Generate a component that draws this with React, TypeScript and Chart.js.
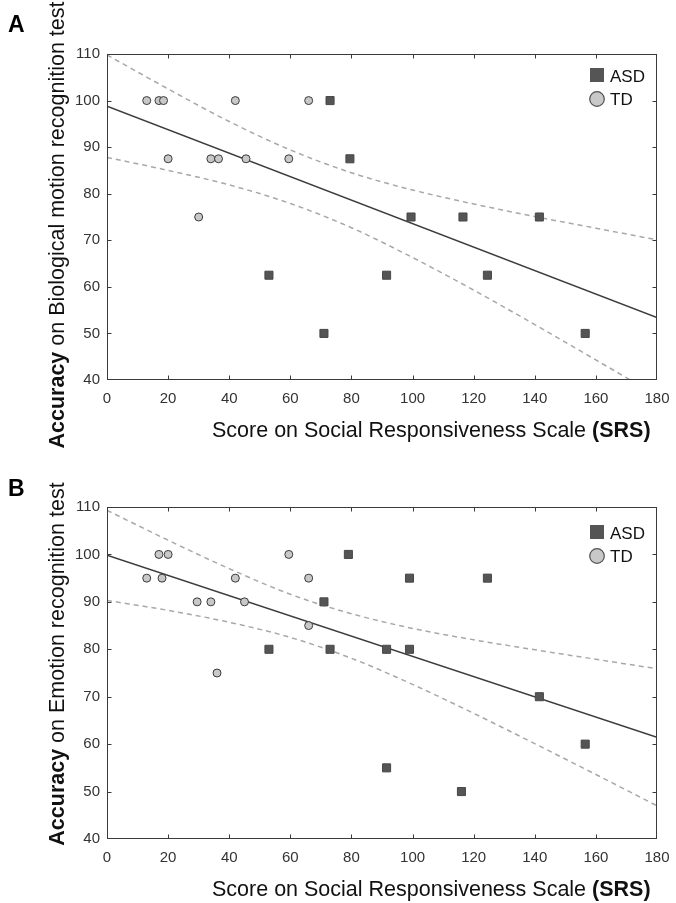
import React, { useEffect, useRef } from 'react';
import { Chart, registerables } from 'chart.js';

Chart.register(...registerables);

const FONT = "Arial, 'Liberation Sans', Helvetica, sans-serif";

// ---- axis ticks ----
const xTickStep = 20;
const xMin = 0;
const xMax = 180;
const yTickStep = 10;
const yMin = 40;
const yMax = 110;

// ---- Panel A: Biological motion recognition ----
const asdA_x = [73, 79.5, 53, 91.5, 71, 99.5, 116.5, 141.5, 124.5, 156.5];
const asdA_y = [100, 87.5, 62.5, 62.5, 50, 75, 75, 75, 62.5, 50];
const tdA_x = [13, 17, 18.5, 42, 66, 20, 34, 36.5, 45.5, 59.5, 30];
const tdA_y = [100, 100, 100, 100, 100, 87.5, 87.5, 87.5, 87.5, 87.5, 75];
const fitA_x = [0, 180];
const fitA_y = [98.8, 53.4];
const bandX = [0, 20, 40, 60, 80, 100, 120, 140, 160, 180];
const upperA = [109.8, 102.5, 95.5, 89.4, 84.5, 80.8, 77.8, 75.1, 72.6, 70.1];
const lowerA = [87.8, 85.0, 81.9, 77.9, 72.7, 66.3, 59.3, 51.9, 44.3, 36.7];

// ---- Panel B: Emotion recognition ----
const asdB_x = [79, 71, 53, 73, 91.5, 91.5, 99, 124.5, 99, 141.5, 156.5, 116];
const asdB_y = [100, 90, 80, 80, 80, 55, 95, 95, 80, 70, 60, 50];
const tdB_x = [13, 17, 20, 18, 29.5, 34, 45, 42, 36, 59.5, 66, 66];
const tdB_y = [95, 100, 100, 95, 90, 90, 90, 95, 75, 100, 95, 85];
const fitB_x = [0, 180];
const fitB_y = [99.85, 61.45];
const upperB = [109.3, 103.0, 97.0, 91.6, 87.5, 84.4, 82.0, 79.9, 77.9, 75.9];
const lowerB = [90.3, 88.2, 85.7, 82.5, 78.1, 72.6, 66.5, 60.1, 53.6, 47.0];

const groupLabels = ['ASD', 'TD'];
const xTitleNormal = 'Score on Social Responsiveness Scale ';
const xTitleBold = '(SRS)';
const yTitleBold = 'Accuracy';
const yTitleA = ' on Biological motion recognition test';
const yTitleB = ' on Emotion recognition test';

const ASD_FILL = '#555555';
const ASD_BORDER = '#484848';
const TD_FILL = '#c8c8c8';
const TD_BORDER = '#3a3a3a';

const zip = (xs: number[], ys: number[]) => xs.map((x, i) => ({ x, y: ys[i] }));

type PanelCfg = {
  letter: string;
  height: number;
  padTop: number;
  xAxisHeight: number;
  letterBaseline: number;
  legendTop: number;
  yTitleShift: number;
  yRest: string;
  asdX: number[]; asdY: number[];
  tdX: number[]; tdY: number[];
  fitX: number[]; fitY: number[];
  upper: number[]; lower: number[];
};

const TITLE_PX = 21.5;

function makePlugin(p: PanelCfg) {
  return {
    id: 'decor' + p.letter,
    afterDraw(chart: any) {
      const { ctx, chartArea: a, scales } = chart;
      const xs = scales.x;
      const ys = scales.y;
      ctx.save();
      // frame
      ctx.strokeStyle = '#3a3a3a';
      ctx.lineWidth = 1;
      const L = Math.round(a.left) + 0.5;
      const R = Math.round(a.right) - 0.5;
      const T = Math.round(a.top) + 0.5;
      const B = Math.round(a.bottom) - 0.5;
      ctx.strokeRect(L, T, R - L, B - T);
      // inside ticks
      const tl = 4;
      ctx.beginPath();
      xs.ticks.forEach((t: any) => {
        const px = Math.round(xs.getPixelForValue(t.value)) + 0.5;
        if (px <= L + 1 || px >= R - 1) return;
        ctx.moveTo(px, B); ctx.lineTo(px, B - tl);
        ctx.moveTo(px, T); ctx.lineTo(px, T + tl);
      });
      ys.ticks.forEach((t: any) => {
        const py = Math.round(ys.getPixelForValue(t.value)) + 0.5;
        if (py <= T + 1 || py >= B - 1) return;
        ctx.moveTo(L, py); ctx.lineTo(L + tl, py);
        ctx.moveTo(R, py); ctx.lineTo(R - tl, py);
      });
      ctx.stroke();

      // panel letter
      ctx.fillStyle = '#000';
      ctx.font = `bold 23px ${FONT}`;
      ctx.textBaseline = 'alphabetic';
      ctx.textAlign = 'left';
      ctx.fillText(p.letter, 8, p.letterBaseline);

      // x title (mixed weight)
      ctx.font = `${TITLE_PX}px ${FONT}`;
      const w1 = ctx.measureText(xTitleNormal).width;
      const xStart = 212;
      const xBase = a.bottom + 57;
      ctx.fillStyle = '#111';
      ctx.fillText(xTitleNormal, xStart, xBase);
      ctx.font = `bold ${TITLE_PX}px ${FONT}`;
      ctx.fillText(xTitleBold, xStart + w1, xBase);

      // y title (rotated, mixed weight)
      ctx.save();
      const cy = (a.top + a.bottom) / 2 + p.yTitleShift;
      ctx.translate(64, cy);
      ctx.rotate(-Math.PI / 2);
      ctx.font = `bold ${TITLE_PX}px ${FONT}`;
      const yb = ctx.measureText(yTitleBold).width;
      ctx.font = `${TITLE_PX}px ${FONT}`;
      const yr = ctx.measureText(p.yRest).width;
      const start = -(yb + yr) / 2;
      ctx.font = `bold ${TITLE_PX}px ${FONT}`;
      ctx.fillText(yTitleBold, start, 0);
      ctx.font = `${TITLE_PX}px ${FONT}`;
      ctx.fillText(p.yRest, start + yb, 0);
      ctx.restore();

      // legend
      const lx = a.right - 67;
      const ly = a.top + p.legendTop;
      ctx.fillStyle = ASD_FILL;
      ctx.fillRect(lx, ly, 14, 14);
      ctx.beginPath();
      ctx.arc(lx + 7, ly + 31, 7.3, 0, Math.PI * 2);
      ctx.fillStyle = TD_FILL;
      ctx.fill();
      ctx.strokeStyle = '#505050';
      ctx.lineWidth = 1.2;
      ctx.stroke();
      ctx.fillStyle = '#111';
      ctx.font = `17px ${FONT}`;
      ctx.fillText(groupLabels[0], lx + 20, ly + 14);
      ctx.fillText(groupLabels[1], lx + 20, ly + 37);
      ctx.restore();
    },
  };
}

function Panel({ p }: { p: PanelCfg }) {
  const ref = useRef<HTMLCanvasElement | null>(null);
  useEffect(() => {
    if (!ref.current) return;
    const tickFont = { family: FONT, size: 15 };
    const chart = new Chart(ref.current, {
      type: 'scatter',
      data: {
        datasets: [
          {
            label: groupLabels[0],
            data: zip(p.asdX, p.asdY),
            pointStyle: 'rect',
            pointRadius: 5.7,
            backgroundColor: ASD_FILL,
            borderColor: ASD_BORDER,
            borderWidth: 1,
            order: 0,
          },
          {
            label: groupLabels[1],
            data: zip(p.tdX, p.tdY),
            pointStyle: 'circle',
            pointRadius: 4,
            backgroundColor: TD_FILL,
            borderColor: TD_BORDER,
            borderWidth: 1,
            order: 0,
          },
          {
            label: 'fit',
            data: zip(p.fitX, p.fitY),
            showLine: true,
            pointRadius: 0,
            borderColor: '#3c3c3c',
            borderWidth: 1.6,
            order: 1,
          },
          {
            label: 'upper',
            data: zip(bandX, p.upper),
            showLine: true,
            pointRadius: 0,
            borderColor: '#a8a8a8',
            borderWidth: 1.5,
            borderDash: [5, 4],
            cubicInterpolationMode: 'monotone',
            order: 2,
          },
          {
            label: 'lower',
            data: zip(bandX, p.lower),
            showLine: true,
            pointRadius: 0,
            borderColor: '#a8a8a8',
            borderWidth: 1.5,
            borderDash: [5, 4],
            cubicInterpolationMode: 'monotone',
            order: 2,
          },
        ] as any,
      },
      options: {
        responsive: false,
        animation: false,
        events: [],
        layout: { padding: { top: p.padTop, right: 19, left: 0, bottom: 0 } },
        plugins: { legend: { display: false }, tooltip: { enabled: false } },
        scales: {
          x: {
            type: 'linear',
            min: xMin,
            max: xMax,
            ticks: { stepSize: xTickStep, color: '#333', font: tickFont, padding: 10, maxRotation: 0 },
            grid: { display: false, drawTicks: false },
            border: { display: false },
            afterFit: (s: any) => { s.height = p.xAxisHeight; s.paddingLeft = 0; s.paddingRight = 0; },
          },
          y: {
            type: 'linear',
            min: yMin,
            max: yMax,
            ticks: { stepSize: yTickStep, color: '#333', font: tickFont, padding: 7 },
            grid: { display: false, drawTicks: false },
            border: { display: false },
            afterFit: (s: any) => { s.width = 107; s.paddingTop = 0; s.paddingBottom = 0; },
          },
        },
      } as any,
      plugins: [makePlugin(p)],
    });
    return () => chart.destroy();
  }, [p]);
  return <canvas ref={ref} width={676} height={p.height} style={{ display: 'block' }} />;
}

const panelA: PanelCfg = {
  letter: 'A', height: 451, padTop: 54, xAxisHeight: 71, letterBaseline: 32, legendTop: 14,
  yTitleShift: 8,
  yRest: yTitleA,
  asdX: asdA_x, asdY: asdA_y, tdX: tdA_x, tdY: tdA_y,
  fitX: fitA_x, fitY: fitA_y, upper: upperA, lower: lowerA,
};
const panelB: PanelCfg = {
  letter: 'B', height: 452, padTop: 56, xAxisHeight: 64, letterBaseline: 45, legendTop: 18,
  yTitleShift: -9,
  yRest: yTitleB,
  asdX: asdB_x, asdY: asdB_y, tdX: tdB_x, tdY: tdB_y,
  fitX: fitB_x, fitY: fitB_y, upper: upperB, lower: lowerB,
};

export default function App() {
  return (
    <div style={{ position: 'absolute', left: 0, top: 0, width: 676, height: 903, background: '#fff' }}>
      <Panel p={panelA} />
      <Panel p={panelB} />
    </div>
  );
}
